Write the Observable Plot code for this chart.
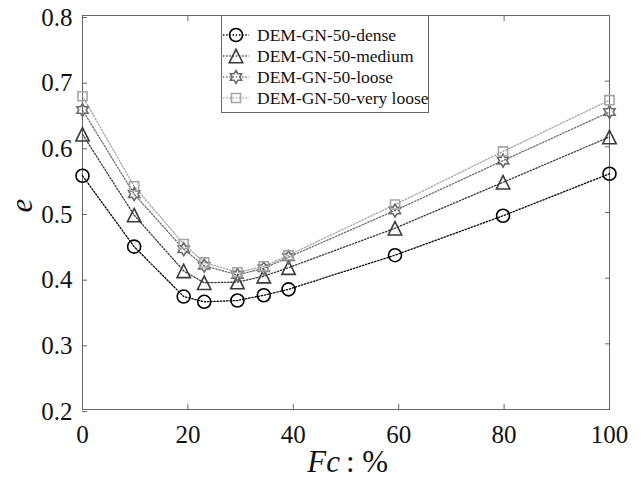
<!DOCTYPE html>
<html>
<head>
<meta charset="utf-8">
<script src="https://cdn.jsdelivr.net/npm/d3@7"></script>
<script src="https://cdn.jsdelivr.net/npm/@observablehq/plot@0.6"></script>
<style>
  body { margin: 0; background: #fff; }
  #chart { position: relative; width: 643px; height: 493px; }
  #chart svg text { font-family: "Liberation Serif", serif !important; }
  #legend {
    position: absolute; left: 221px; top: 15px; width: 208px; height: 98px;
    box-sizing: border-box; border: 1px solid #666; background: #fff;
    font-family: "Liberation Serif", serif; font-size: 17.5px; color: #111;
  }
  #legend .row { position: absolute; left: 0; height: 22px; display: flex; align-items: center; white-space: nowrap; }
  #legend svg { display: block; margin-left: 1px; margin-right: 8px; }
</style>
</head>
<body>
<div id="chart"></div>
<script>
// Fines content (%) of each mixture
const fc = [0, 9.8, 19.2, 23.1, 29.4, 34.4, 39.1, 59.3, 79.8, 100];

// Void ratio e for each packing state
const dense     = [0.556, 0.448, 0.372, 0.364, 0.366, 0.374, 0.383, 0.435, 0.495, 0.559];
const medium    = [0.619, 0.496, 0.411, 0.393, 0.394, 0.403, 0.416, 0.476, 0.546, 0.615];
const loose     = [0.656, 0.528, 0.444, 0.419, 0.405, 0.415, 0.432, 0.503, 0.579, 0.653];
const veryLoose = [0.677, 0.540, 0.452, 0.424, 0.409, 0.418, 0.435, 0.512, 0.593, 0.671];

const seriesNames = ["DEM-GN-50-dense", "DEM-GN-50-medium", "DEM-GN-50-loose", "DEM-GN-50-very loose"];
const seriesValues = [dense, medium, loose, veryLoose];
const seriesColors = ["#000000", "#3a3a3a", "#6c6c6c", "#a6a6a6"];

const xTicks = [0, 20, 40, 60, 80, 100];
const yTicks = [0.2, 0.3, 0.4, 0.5, 0.6, 0.7, 0.8];

// Open marker shapes; each is sized from the dot's area
const radiusOf = size => Math.sqrt(size / Math.PI);
const circleSym = {
  draw(ctx, size) { const r = radiusOf(size); ctx.moveTo(r, 0); ctx.arc(0, 0, r, 0, 2 * Math.PI); }
};
const triangleSym = {
  draw(ctx, size) {
    const h = radiusOf(size) * 1.03;
    ctx.moveTo(0, -h); ctx.lineTo(h, h); ctx.lineTo(-h, h); ctx.closePath();
  }
};
const hexagramSym = {
  draw(ctx, size) {
    const R = radiusOf(size) * 1.0, r = R / Math.sqrt(3);
    for (let k = 0; k < 12; k++) {
      const a = -Math.PI / 2 + k * Math.PI / 6, rr = k % 2 ? r : R;
      const px = rr * Math.cos(a), py = rr * Math.sin(a);
      if (k === 0) ctx.moveTo(px, py); else ctx.lineTo(px, py);
    }
    ctx.closePath();
  }
};
const squareSym = {
  draw(ctx, size) { const s = radiusOf(size) * 0.7; ctx.rect(-s, -s, 2 * s, 2 * s); }
};
const seriesSymbols = [circleSym, triangleSym, hexagramSym, squareSym];

const data = seriesNames.flatMap((name, k) =>
  fc.map((x, i) => ({series: name, fc: x, e: seriesValues[k][i]}))
);

const serif = '"Liberation Serif", serif';
const axisColor = "#666";
const markerR = 6.5;
const dash = "1.4,1.8";

const plot = Plot.plot({
  width: 643,
  height: 493,
  marginLeft: 82,
  marginRight: 34,
  marginTop: 15,
  marginBottom: 84,
  style: {fontFamily: serif, fontSize: "25px", color: "#111", background: "#fff"},
  x: {domain: [0, 100]},
  y: {domain: [0.2, 0.8]},
  color: {domain: seriesNames, range: seriesColors},
  symbol: {domain: seriesNames, range: seriesSymbols},
  marks: [
    Plot.frame({stroke: axisColor}),
    Plot.axisX({ticks: xTicks, tickSize: -5, tickPadding: 21, stroke: axisColor, label: null, fontSize: 25, fontFamily: serif}),
    Plot.axisX({anchor: "top", ticks: xTicks, tickSize: -5, tickFormat: () => "", stroke: axisColor, label: null}),
    Plot.axisY({ticks: yTicks, tickSize: -5, tickPadding: 15, tickFormat: d3.format(".1f"), stroke: axisColor, label: null, fontSize: 25, fontFamily: serif, dy: 2}),
    Plot.axisY({anchor: "right", ticks: yTicks, tickSize: -5, tickFormat: () => "", stroke: axisColor, label: null}),
    Plot.line(data, {x: "fc", y: "e", z: "series", stroke: "series", strokeWidth: 1.3, strokeDasharray: dash}),
    Plot.dot(data, {x: "fc", y: "e", symbol: "series", stroke: "series", fill: "none", r: markerR, strokeWidth: 1.6}),
    Plot.text(["Fc"], {frameAnchor: "bottom", dx: -6, dy: 62, textAnchor: "end", fontStyle: "italic", fontSize: 31, fontFamily: serif, fill: "#111"}),
    Plot.text([": %"], {frameAnchor: "bottom", dx: 0, dy: 62, textAnchor: "start", fontSize: 31, fontFamily: serif, fill: "#111"}),
    Plot.text(["e"], {frameAnchor: "left", dx: -60, rotate: -90, fontStyle: "italic", fontSize: 31, fontFamily: serif, fill: "#111"})
  ]
});

const chart = document.getElementById("chart");
chart.appendChild(plot);

// Legend box inside the axes, top-left of centre
const legend = document.createElement("div");
legend.id = "legend";
seriesNames.forEach((name, k) => {
  const row = document.createElement("div");
  row.className = "row";
  row.style.top = (8 + 21 * k) + "px";
  const svg = d3.create("svg").attr("width", 26).attr("height", 22);
  svg.append("line").attr("x1", 0).attr("x2", 26).attr("y1", 11).attr("y2", 11)
    .attr("stroke", seriesColors[k]).attr("stroke-width", 1.3).attr("stroke-dasharray", dash);
  const p = d3.path();
  seriesSymbols[k].draw(p, markerR * markerR * Math.PI);
  svg.append("path").attr("d", p.toString()).attr("transform", "translate(13,11)")
    .attr("fill", "none").attr("stroke", seriesColors[k]).attr("stroke-width", 1.6);
  row.appendChild(svg.node());
  const label = document.createElement("span");
  label.textContent = name;
  row.appendChild(label);
  legend.appendChild(row);
});
chart.appendChild(legend);
</script>
</body>
</html>
